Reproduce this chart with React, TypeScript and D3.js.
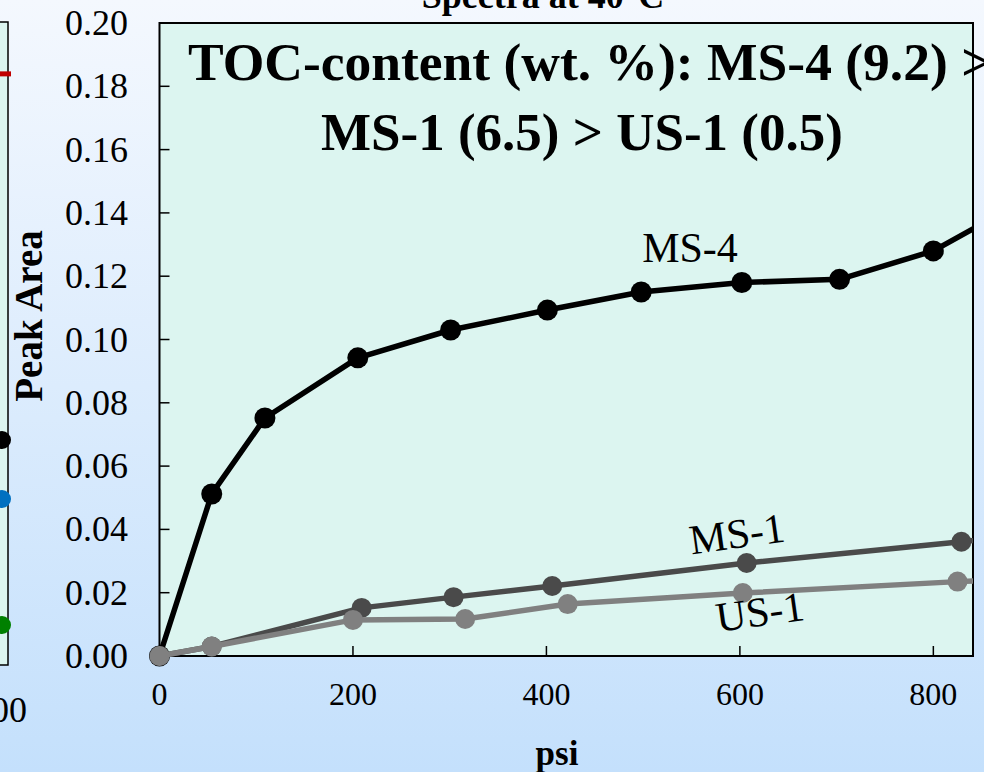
import React from "react";
import * as d3 from "d3";

const xTicks = [0, 200, 400, 600, 800];
const yTicks = [0, 0.02, 0.04, 0.06, 0.08, 0.1, 0.12, 0.14, 0.16, 0.18, 0.2];

const ms4Psi = [0, 54, 109, 205, 301, 401, 498, 602, 703, 800, 900];
const ms4Area = [0, 0.0512, 0.0752, 0.0942, 0.103, 0.1093, 0.115, 0.118, 0.119, 0.128, 0.145];
const ms1Psi = [0, 54, 209, 304, 406, 607, 829, 900];
const ms1Area = [0, 0.003, 0.0152, 0.0186, 0.0221, 0.0294, 0.0361, 0.0383];
const us1Psi = [0, 54, 200, 316, 422, 603, 825, 900];
const us1Area = [0, 0.003, 0.0114, 0.0117, 0.0164, 0.0199, 0.0235, 0.0245];

// Neighbouring (cropped) chart remnants on the left edge
const leftDotY = [0.068, 0.049, 0.0095];
const leftDotColors = ["#000000", "#0070c0", "#008000"];
const leftRedY = [0.182];

const series = [
  { name: "MS-4", psi: ms4Psi, area: ms4Area, color: "#000000", r: 10.5 },
  { name: "MS-1", psi: ms1Psi, area: ms1Area, color: "#4a4a4a", r: 10 },
  { name: "US-1", psi: us1Psi, area: us1Area, color: "#808080", r: 10 },
];

const W = 984;
const H = 772;
const L = 159.5;
const R = 973;
const T = 23;
const B = 656;

export default function App() {
  const x = d3.scaleLinear().domain([0, 841]).range([L, R]);
  const y = d3.scaleLinear().domain([0, 0.2]).range([B, T]);
  const line = d3
    .line<[number, number]>()
    .x((d) => x(d[0]))
    .y((d) => y(d[1]));

  const font = "'Liberation Serif', 'Times New Roman', serif";
  const leftY = d3.scaleLinear().domain([0, 0.2]).range([665, 22]);

  return (
    <svg
      width={W}
      height={H}
      style={{ position: "absolute", left: 0, top: 0 }}
      fontFamily={font}
    >
      <defs>
        <linearGradient id="bg" x1="0" y1="0" x2="0" y2="1">
          <stop offset="0" stopColor="#f4f8fe" />
          <stop offset="1" stopColor="#c4e0fc" />
        </linearGradient>
        <clipPath id="clip">
          <rect x={0} y={0} width={R} height={H} />
        </clipPath>
      </defs>
      <rect x={0} y={0} width={W} height={H} fill="url(#bg)" />

      {/* left cropped chart */}
      <rect x={-20} y={22} width={28} height={643} fill="#dcf5f0" stroke="#000" strokeWidth={1.5} />
      {leftRedY.map((v, i) => (
        <line key={i} x1={0} x2={11} y1={leftY(v) - 6} y2={leftY(v) - 6} stroke="#c00000" strokeWidth={5} />
      ))}
      {leftDotY.map((v, i) => (
        <circle key={i} cx={2} cy={[440, 499, 625][i]} r={9} fill={leftDotColors[i]} />
      ))}
      <text x={-9} y={722} fontSize={36}>00</text>

      {/* title fragment */}
      <text x={543} y={8} fontSize={36} fontWeight="bold" textAnchor="middle">
        Spectra at 40°C
      </text>

      {/* plot area */}
      <rect x={L} y={T} width={R - L} height={B - T} fill="#dcf5f0" />

      {yTicks.map((t) => (
        <g key={"y" + t}>
          <line x1={L} x2={L + 10} y1={y(t)} y2={y(t)} stroke="#000" strokeWidth={1.5} />
          <text x={128} y={y(t) + 12} fontSize={36} textAnchor="end">
            {t.toFixed(2)}
          </text>
        </g>
      ))}
      {xTicks.map((t) => (
        <g key={"x" + t}>
          <line x1={x(t)} x2={x(t)} y1={B} y2={B - 10} stroke="#000" strokeWidth={1.5} />
          <text x={x(t)} y={705} fontSize={32} textAnchor="middle">
            {t}
          </text>
        </g>
      ))}
      <rect x={L} y={T} width={R - L} height={B - T} fill="none" stroke="#000" strokeWidth={2} />

      <text x={557} y={765} fontSize={35} fontWeight="bold" textAnchor="middle">
        psi
      </text>
      <text
        transform={`translate(42,316) rotate(-90)`}
        fontSize={39}
        fontWeight="bold"
        textAnchor="middle"
      >
        Peak Area
      </text>

      <g clipPath="url(#clip)">
        {series.map((s) => (
          <g key={s.name}>
            <path
              d={line(s.psi.map((p, i) => [p, s.area[i]]) as [number, number][]) || ""}
              fill="none"
              stroke={s.color}
              strokeWidth={5.5}
              strokeLinejoin="round"
            />
            {s.psi.map((p, i) => (
              <circle key={i} cx={x(p)} cy={y(s.area[i])} r={s.r} fill={s.color} />
            ))}
          </g>
        ))}
      </g>

      <text x={690} y={262} fontSize={42} textAnchor="middle">MS-4</text>
      <text x={737} y={548} fontSize={42} textAnchor="middle" transform="rotate(-8,737,535)">MS-1</text>
      <text x={760} y={626} fontSize={42} textAnchor="middle" transform="rotate(-8,760,613)">US-1</text>

      <text x={188} y={80} fontSize={53.5} fontWeight="bold">
        TOC-content (wt. %): MS-4 (9.2) &gt;
      </text>
      <text x={321} y={150} fontSize={53} fontWeight="bold">
        MS-1 (6.5) &gt; US-1 (0.5)
      </text>
    </svg>
  );
}
